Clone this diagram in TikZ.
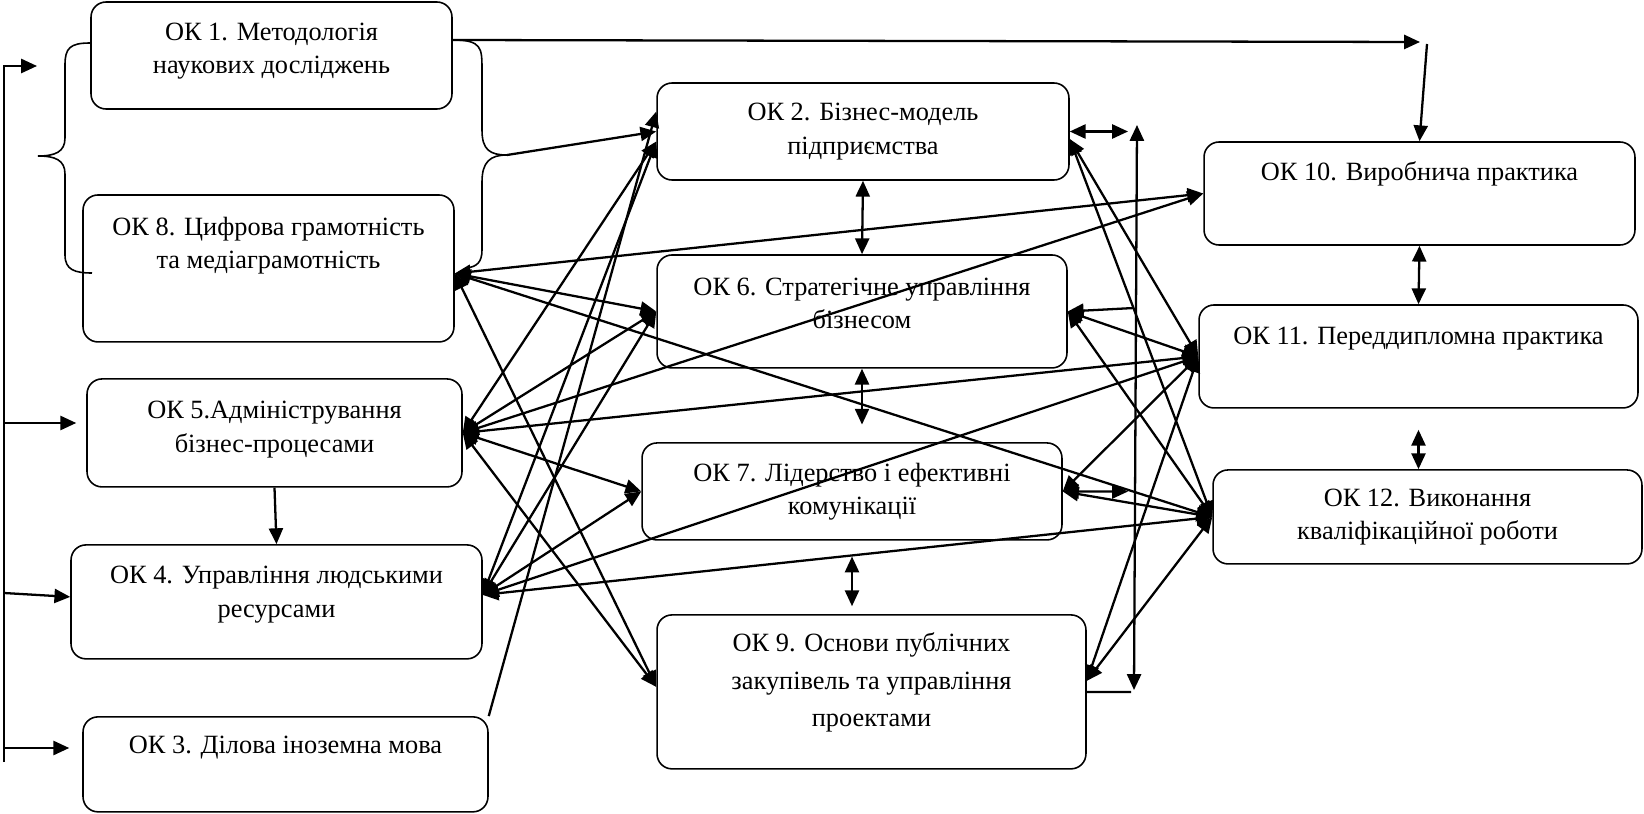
\documentclass[tikz,border=0pt]{standalone}
\usepackage{fontspec}
\setmainfont{Liberation Serif}
\usetikzlibrary{arrows.meta,positioning}

\tikzset{okbox/.style={draw, rounded corners=0.3cm, line width=0.9pt, align=center, font=\fontsize{15}{19}\selectfont}}

\begin{document}
\begin{tikzpicture}[x=0.02cm, y=-0.02cm, >={Triangle[length=9pt,width=8pt]}, on grid, line width=1.3pt]
\useasboundingbox (0,0) rectangle (1644,814);
            % left column
            \node[okbox, minimum width=7.22cm, minimum height=2.14cm, text depth=8pt] (ok1) at (271.5,55.5) {ОК 1. Методологія\\наукових досліджень};
            \node[okbox, minimum width=7.42cm, minimum height=2.94cm, text depth=29pt] (ok8) [below=4.26cm of ok1, xshift=-0.06cm] {ОК 8. Цифрова грамотність\\та медіаграмотність};
            \node[okbox, minimum width=7.5cm, minimum height=2.16cm, text depth=7pt] (ok5) [below=3.29cm of ok8, xshift=0.12cm] {ОК 5.Адміністрування\\бізнес-процесами};
            \node[okbox, minimum width=8.22cm, minimum height=2.28cm, text depth=11.5pt] (ok4) [below=3.38cm of ok5, xshift=0.04cm] {ОК 4. Управління людськими\\ресурсами};
            \node[okbox, minimum width=8.1cm, minimum height=1.9cm, text depth=22pt] (ok3) [below=3.25cm of ok4, xshift=0.18cm] {ОК 3. Ділова іноземна мова};
            % middle column
            \node[okbox, minimum width=8.24cm, minimum height=1.94cm] (ok2) at (863,131.5) {ОК 2. Бізнес-модель\\підприємства};
            \node[okbox, minimum width=8.2cm, minimum height=2.26cm, text depth=9pt] (ok6) [below=3.6cm of ok2, xshift=-0.02cm] {ОК 6. Стратегічне управління\\бізнесом};
            \node[okbox, minimum width=8.4cm, minimum height=1.94cm] (ok7) [below=3.6cm of ok6, xshift=-0.2cm] {ОК 7. Лідерство і ефективні\\комунікації};
            \node[okbox, minimum width=8.58cm, minimum height=3.08cm, text depth=14pt, font=\fontsize{15}{21.5}\selectfont] (ok9) [below=4.01cm of ok7, xshift=0.39cm] {ОК 9. Основи публічних\\закупівель та управління\\проектами};
            % right column
            \node[okbox, minimum width=8.62cm, minimum height=2.06cm, text depth=26pt] (ok10) at (1419.5,193.5) {ОК 10. Виробнича практика};
            \node[okbox, minimum width=8.78cm, minimum height=2.06cm, text depth=24pt] (ok11) [below=3.26cm of ok10, xshift=-0.02cm] {ОК 11. Переддипломна практика};
            \node[okbox, minimum width=8.58cm, minimum height=1.88cm] (ok12) [below=3.21cm of ok11, xshift=0.18cm] {ОК 12. Виконання\\кваліфікаційної роботи};

            \coordinate (ltop) at (4,66);
            \coordinate (lend) at (37,66);
            \coordinate (l5) at (4,423);
            \coordinate (l4) at (4,593);
            \coordinate (l3) at (4,748);
            \coordinate (lbot) at (4,762);
            \coordinate (tipL) at (38,156);
            \coordinate (tipR) at (507,155);
            \coordinate (t1) at (1420,42);
            \coordinate (t2) at (1427,44);
            \coordinate (rtop) at (1137,125);
            \coordinate (rbot) at (1134,690);
            \coordinate (r2) at (1128,131.5);
            \coordinate (r6) at (1134,308);
            \coordinate (r7) at (1128,491.5);
            \coordinate (r9) at (1131,692);

            % braces
            \draw[line width=0.9pt] ([yshift=0.25cm]ok1.west) .. controls (70,43) and (65,48) .. (65,65) -- (65,138)
                .. controls (65,152) and (55,156) .. (tipL) .. controls (55,156) and (65,160) .. (65,174) -- (65,255)
                .. controls (65,270) and (75,273) .. (92,273);
            \draw[line width=0.9pt] ([yshift=0.31cm]ok1.east) .. controls (482,40) and (482,48) .. (482,70) -- (482,130)
                .. controls (482,150) and (490,155) .. (tipR) .. controls (490,155) and (482,162) .. (482,182) -- (482,250)
                .. controls (482,262) and (477,267) .. (466,268);
            \draw[->] (tipR) -- (ok2.west);

            % left line
            \draw[->] (lbot) -- (ltop) -- (lend);
            \draw[->, shorten >=5.7pt] (l5) -- (ok5.west |- l5);
            \draw[->] (l4) -- ([yshift=0.1cm]ok4.west);
            \draw[->, shorten >=7.4pt] (l3) -- (ok3.west |- l3);
            \draw[->] (ok5.south) -- (ok4.north);

            % top line
            \draw[->] ([yshift=0.31cm]ok1.east) -- (t1);
            \draw[->] (t2) -- (ok10.north);

            \tikzset{link/.style={<->}}
            \path ([yshift=-0.1cm]ok8.east) edge [link] (ok6.west)
                             edge [link] ([yshift=0.1cm]ok9.west)
                             edge [link] (ok10.west)
                             edge [link] (ok12.west);
            \path (ok5.east) edge [link] ([yshift=-0.2cm]ok2.west)
                             edge [link] (ok6.west)
                             edge [link] (ok7.west)
                             edge [link] ([yshift=0.1cm]ok9.west)
                             edge [link] (ok10.west)
                             edge [link] (ok11.west);
            \path ([yshift=0.14cm]ok4.east) edge [link] ([yshift=-0.2cm]ok2.west)
                             edge [link] (ok6.west)
                             edge [link] (ok7.west)
                             edge [link] (ok11.west)
                             edge [link] (ok12.west);
            \path (ok3.north east) edge [->] ([yshift=0.4cm]ok2.west);
            \path ([yshift=-0.15cm]ok2.east) edge [link] (ok11.west)
                                             edge [link] (ok12.west);
            \path (ok6.east) edge [link] (ok11.west)
                             edge [link] (ok12.west);
            \path (ok7.east) edge [link] (ok11.west)
                             edge [link] (ok12.west);
            \path ([yshift=0.22cm]ok9.east) edge [link] (ok11.west)
                                            edge [link] (ok12.west);

            % right line
            \draw[<->] (rbot) -- (rtop);
            \draw[<->] (ok2.east) -- (r2);
            \draw[->] (r6) -- (ok6.east);
            \draw[<->] (ok7.east) -- (r7);
            \draw (ok9.east) -- (r9);

            % between boxes
            \path (ok2.south) edge [link] (ok6.north);
            \draw[<->, shorten >=10pt] (ok6.south) -- (ok6.south |- ok7.north);
            \draw[<->, shorten <=9pt, shorten >=4.5pt] (ok7.south) -- (ok7.south |- ok9.north);
            \path (ok10.south) edge [link] (ok11.north);
            \draw[<->, shorten <=12pt] (ok11.south) -- (ok11.south |- ok12.north);
        \end{tikzpicture}
\end{document}
